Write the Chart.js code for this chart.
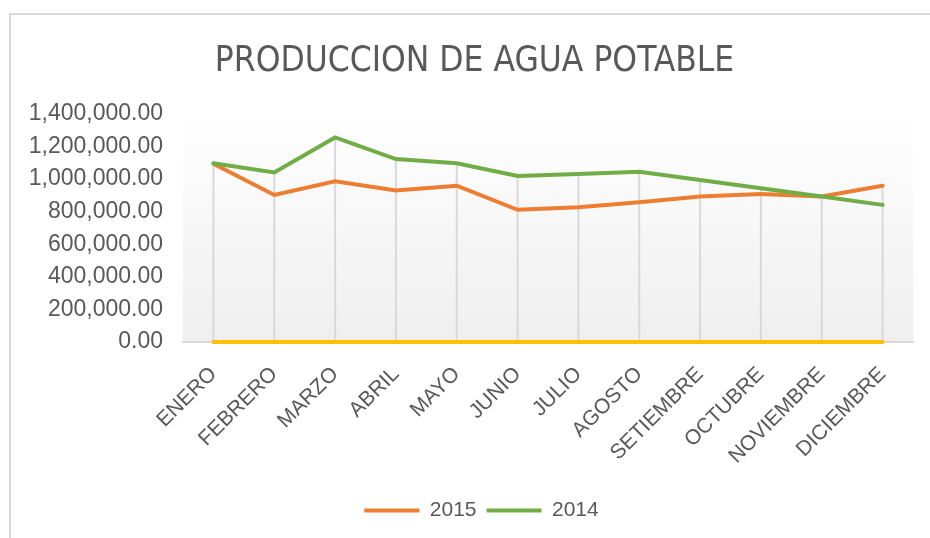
<!DOCTYPE html>
<html>
<head>
<meta charset="utf-8">
<script src="https://cdn.jsdelivr.net/npm/chart.js@4.4.1/dist/chart.umd.min.js"></script>
<style>
  html, body { margin: 0; padding: 0; background: #fff; overflow: hidden; }
  #frame {
    position: absolute; left: 9px; top: 13px; width: 1000px; height: 1000px;
    border-left: 2px solid #d9d9d9; border-top: 2px solid #d9d9d9;
  }
  #grafico { position: absolute; left: 0; top: 0; }
</style>
</head>
<body>
<div id="frame"></div>
<canvas id="grafico" width="930" height="538"></canvas>
<script>
// datos
const meses = ['ENERO', 'FEBRERO', 'MARZO', 'ABRIL', 'MAYO', 'JUNIO', 'JULIO',
    'AGOSTO', 'SETIEMBRE', 'OCTUBRE', 'NOVIEMBRE', 'DICIEMBRE'];
const prod2015 = [1095000, 903000, 987000, 930000, 960000, 812000, 828000,
    858000, 893000, 909000, 893000, 960000];
const prod2014 = [1097000, 1041000, 1256000, 1123000, 1097000, 1019000, 1032000,
    1046000, 995000, 944000, 893000, 842000];
const serieVacia = [0, 0, 0, 0, 0, 0, 0, 0, 0, 0, 0, 0];
const ticksY = [0, 200000, 400000, 600000, 800000, 1000000, 1200000, 1400000];

const gris = '#595959';
const fuente = "'Liberation Sans', Arial, sans-serif";

// fondo degradado del area de trazado
const fondoPlugin = {
    id: 'fondo',
    beforeDraw(chart) {
        const { ctx, chartArea: a } = chart;
        const g = ctx.createLinearGradient(0, a.top, 0, a.bottom);
        g.addColorStop(0, '#ffffff');
        g.addColorStop(1, '#efefef');
        ctx.save();
        ctx.fillStyle = g;
        ctx.fillRect(a.left, a.top, a.right - a.left, a.bottom - a.top);
        ctx.restore();
    }
};

// lineas de proyeccion (desde el punto mas alto hasta el eje)
const proyeccionPlugin = {
    id: 'proyeccion',
    beforeDatasetsDraw(chart) {
        const { ctx, scales } = chart;
        const x = scales.x, y = scales.y;
        ctx.save();
        ctx.strokeStyle = '#d9d9d9';
        ctx.lineWidth = 2;
        meses.forEach((m, i) => {
            const top = Math.max(prod2015[i], prod2014[i], serieVacia[i]);
            const px = x.getPixelForValue(i);
            ctx.beginPath();
            ctx.moveTo(px, y.getPixelForValue(top));
            ctx.lineTo(px, y.getPixelForValue(0));
            ctx.stroke();
        });
        ctx.restore();
    }
};

// titulo y leyenda un poco a la derecha, como en Excel
const desplazarPlugin = {
    id: 'desplazar',
    afterLayout(chart) {
        if (chart.titleBlock) { chart.titleBlock.left += 13; chart.titleBlock.right += 13; }
        if (chart.legend) { chart.legend.left += 20; chart.legend.right += 20; }
    }
};

const ctx = document.getElementById('grafico').getContext('2d');
new Chart(ctx, {
    type: 'line',
    data: {
        labels: meses,
        datasets: [
            { label: '2015', data: prod2015, borderColor: '#ED7D31', backgroundColor: '#ED7D31', borderWidth: 4, order: 2 },
            { label: '2014', data: prod2014, borderColor: '#70AD47', backgroundColor: '#70AD47', borderWidth: 4, order: 1 },
            { label: '', data: serieVacia, borderColor: '#FFC000', backgroundColor: '#FFC000', borderWidth: 4, order: 3, clip: false }
        ]
    },
    options: {
        responsive: false,
        animation: false,
        elements: {
            line: { tension: 0, borderCapStyle: 'round' },
            point: { radius: 0 }
        },
        layout: { padding: { left: 10, right: 17, top: 30, bottom: 7 } },
        scales: {
            x: {
                offset: true,
                grid: { display: false, drawTicks: false },
                border: { display: true, color: '#d9d9d9', width: 2 },
                ticks: {
                    color: gris,
                    font: { family: fuente, size: 21 },
                    minRotation: 45,
                    maxRotation: 45,
                    padding: 20,
                    autoSkip: false
                },
                afterFit(scale) { scale.height = 148; }
            },
            y: {
                min: 0,
                max: 1400000,
                grid: { display: false, drawTicks: false },
                border: { display: false },
                afterBuildTicks(scale) { scale.ticks = ticksY.map(v => ({ value: v })); },
                ticks: {
                    color: gris,
                    font: { family: fuente, size: 23 },
                    padding: 20,
                    callback: v => v.toLocaleString('en-US', { minimumFractionDigits: 2, maximumFractionDigits: 2 })
                },
                afterFit(scale) { scale.width = 173; }
            }
        },
        plugins: {
            title: {
                display: true,
                text: 'PRODUCCION DE AGUA POTABLE',
                color: gris,
                font: { family: "'Liberation Sans Narrow', 'DejaVu Sans Condensed', sans-serif", size: 35, weight: 'normal' },
                padding: { top: 11, bottom: 31 }
            },
            legend: {
                position: 'bottom',
                labels: {
                    filter: item => item.text !== '',
                    sort: (a, b) => a.datasetIndex - b.datasetIndex,
                    usePointStyle: true,
                    pointStyle: 'line',
                    pointStyleWidth: 55,
                    color: gris,
                    font: { family: fuente, size: 21 },
                    padding: 10
                }
            },
            tooltip: { enabled: false }
        }
    },
    plugins: [fondoPlugin, proyeccionPlugin, desplazarPlugin]
});
</script>
</body>
</html>
